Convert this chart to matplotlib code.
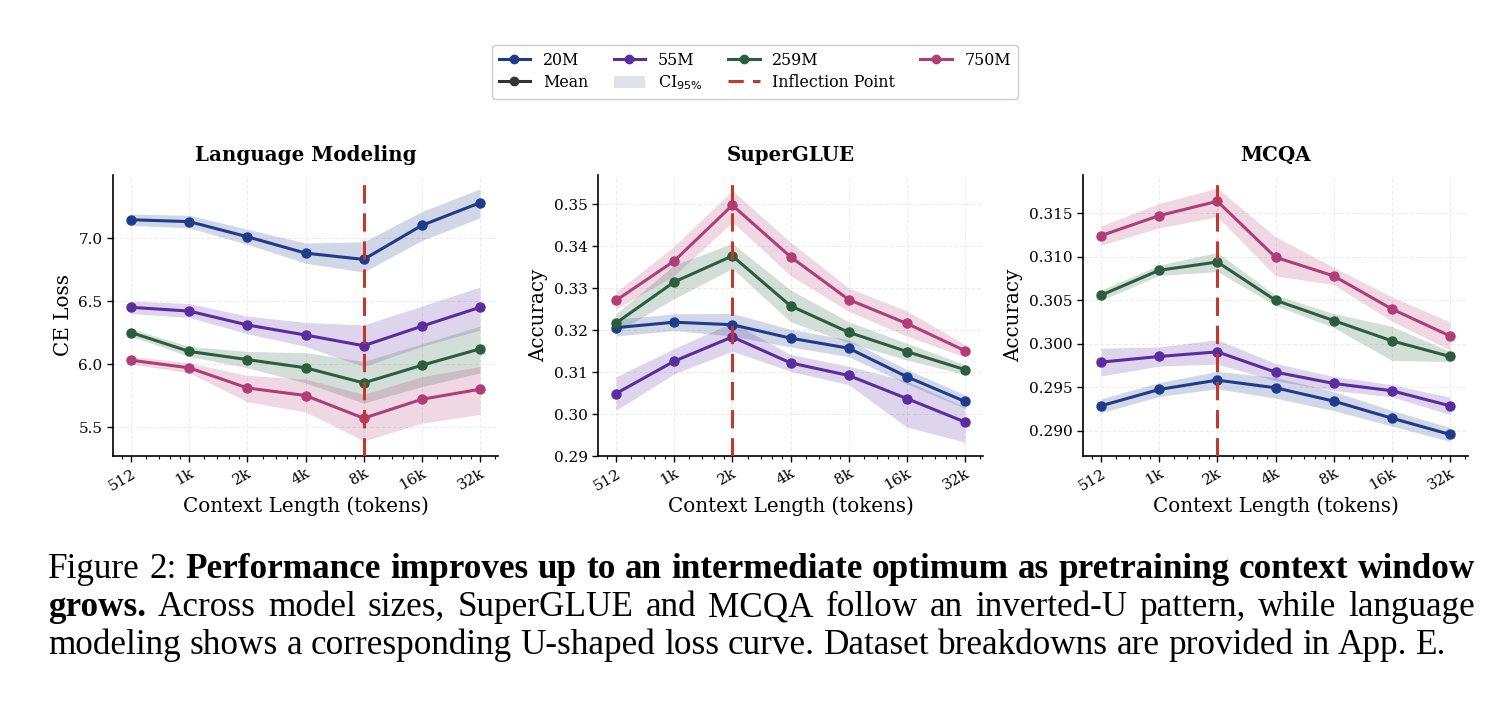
import matplotlib
matplotlib.use("Agg")
import matplotlib.pyplot as plt
import numpy as np
from matplotlib.lines import Line2D
from matplotlib.patches import Patch
from matplotlib.ticker import FixedLocator, LogLocator, NullFormatter

# ---------------- data ----------------
context_lengths = [512, 1024, 2048, 4096, 8192, 16384, 32768]
tick_labels = ["512", "1k", "2k", "4k", "8k", "16k", "32k"]
models = ["20M", "55M", "259M", "750M"]
colors = {"20M": "#1f3b8c", "55M": "#5a2ca0", "259M": "#2b5e3e", "750M": "#b03d78"}

# Language Modeling (CE loss)
lm_mean = {
    "20M":  [7.145, 7.13, 7.01, 6.88, 6.83, 7.10, 7.28],
    "55M":  [6.45, 6.42, 6.31, 6.23, 6.145, 6.30, 6.45],
    "259M": [6.25, 6.10, 6.035, 5.97, 5.85, 5.99, 6.12],
    "750M": [6.03, 5.97, 5.81, 5.75, 5.57, 5.72, 5.80],
}
lm_lo = {
    "20M":  [7.10, 7.08, 6.95, 6.80, 6.73, 6.98, 7.16],
    "55M":  [6.40, 6.37, 6.24, 6.14, 5.98, 6.14, 6.27],
    "259M": [6.22, 6.06, 5.97, 5.85, 5.69, 5.82, 5.93],
    "750M": [6.00, 5.93, 5.70, 5.62, 5.39, 5.53, 5.60],
}
lm_hi = {
    "20M":  [7.19, 7.18, 7.07, 6.96, 6.97, 7.21, 7.39],
    "55M":  [6.50, 6.48, 6.38, 6.33, 6.31, 6.46, 6.61],
    "259M": [6.28, 6.14, 6.10, 6.09, 6.02, 6.16, 6.30],
    "750M": [6.06, 6.01, 5.91, 5.88, 5.76, 5.90, 5.98],
}

# SuperGLUE (accuracy)
sg_mean = {
    "20M":  [0.3206, 0.3219, 0.3213, 0.3181, 0.3157, 0.3089, 0.3030],
    "55M":  [0.3049, 0.3126, 0.3184, 0.3122, 0.3092, 0.3037, 0.2981],
    "259M": [0.3217, 0.3315, 0.3377, 0.3258, 0.3195, 0.3149, 0.3106],
    "750M": [0.3271, 0.3365, 0.3498, 0.3375, 0.3273, 0.3216, 0.3151],
}
sg_lo = {
    "20M":  [0.3186, 0.3199, 0.3186, 0.3160, 0.3137, 0.3072, 0.3014],
    "55M":  [0.3009, 0.3096, 0.3150, 0.3102, 0.3070, 0.2969, 0.2933],
    "259M": [0.3195, 0.3275, 0.3347, 0.3220, 0.3170, 0.3129, 0.3094],
    "750M": [0.3251, 0.3330, 0.3458, 0.3330, 0.3245, 0.3186, 0.3136],
}
sg_hi = {
    "20M":  [0.3226, 0.3239, 0.3240, 0.3202, 0.3177, 0.3106, 0.3046],
    "55M":  [0.3089, 0.3156, 0.3218, 0.3142, 0.3114, 0.3079, 0.3017],
    "259M": [0.3239, 0.3355, 0.3407, 0.3296, 0.3220, 0.3169, 0.3118],
    "750M": [0.3291, 0.3400, 0.3533, 0.3410, 0.3301, 0.3246, 0.3166],
}

# MCQA (accuracy)
mc_mean = {
    "20M":  [0.29287, 0.29475, 0.29582, 0.29494, 0.29341, 0.29145, 0.28958],
    "55M":  [0.29789, 0.29854, 0.29907, 0.29674, 0.29544, 0.29460, 0.29287],
    "259M": [0.30558, 0.30845, 0.30940, 0.30500, 0.30267, 0.30034, 0.29854],
    "750M": [0.31243, 0.31473, 0.31638, 0.30995, 0.30780, 0.30400, 0.30090],
}
mc_lo = {
    "20M":  [0.29207, 0.29395, 0.29482, 0.29374, 0.29231, 0.29055, 0.28878],
    "55M":  [0.29629, 0.29744, 0.29767, 0.29574, 0.29464, 0.29390, 0.29187],
    "259M": [0.30498, 0.30785, 0.30830, 0.30440, 0.30187, 0.29810, 0.29794],
    "750M": [0.31133, 0.31333, 0.31460, 0.30780, 0.30680, 0.30260, 0.29930],
}
mc_hi = {
    "20M":  [0.29367, 0.29555, 0.29682, 0.29614, 0.29451, 0.29235, 0.29038],
    "55M":  [0.29949, 0.29964, 0.30047, 0.29774, 0.29624, 0.29530, 0.29387],
    "259M": [0.30618, 0.30905, 0.31050, 0.30560, 0.30347, 0.30200, 0.29914],
    "750M": [0.31353, 0.31613, 0.31790, 0.31230, 0.30880, 0.30540, 0.30250],
}

panels = [
    ("Language Modeling", "CE Loss", lm_mean, lm_lo, lm_hi, 8192, (5.27, 7.5), [5.5, 6.0, 6.5, 7.0], "{:.1f}"),
    ("SuperGLUE", "Accuracy", sg_mean, sg_lo, sg_hi, 2048, (0.29, 0.357), [0.29, 0.30, 0.31, 0.32, 0.33, 0.34, 0.35], "{:.2f}"),
    ("MCQA", "Accuracy", mc_mean, mc_lo, mc_hi, 2048, (0.2871, 0.3194), [0.290, 0.295, 0.300, 0.305, 0.310, 0.315], "{:.3f}"),
]

# ---------------- figure ----------------
plt.rcParams["font.family"] = ["DejaVu Serif"]
W, H = 1506, 706
fig = plt.figure(figsize=(W / 100, H / 100), dpi=100)
fig.patch.set_facecolor("white")

lefts = [113, 598, 1083]
ax_w, ax_top, ax_bot = 385, 175, 456
red = "#c0392b"

for (title, ylabel, mean, lo, hi, infl, ylim, yticks, fmt), lx in zip(panels, lefts):
    ax = fig.add_axes([lx / W, 1 - ax_bot / H, ax_w / W, (ax_bot - ax_top) / H])
    ax.set_xscale("log", base=2)
    for m in models:
        c = colors[m]
        ax.fill_between(context_lengths, lo[m], hi[m], color=c, alpha=0.2, lw=0)
        ax.plot(context_lengths, mean[m], color=c, lw=2.2, marker="o", ms=6.5, zorder=3)
    ax.axvline(infl, color=red, lw=2.2, ls=(0, (6, 3.2)), zorder=4)
    ax.set_xlim(512 / 2 ** 0.31, 32768 * 2 ** 0.31)
    ax.set_ylim(*ylim)
    ax.xaxis.set_major_locator(FixedLocator(context_lengths))
    ax.set_xticklabels(tick_labels, rotation=30, ha="right", rotation_mode="anchor")
    ax.xaxis.set_minor_locator(LogLocator(base=2, subs=np.arange(1.2, 2.0, 0.2)))
    ax.xaxis.set_minor_formatter(NullFormatter())
    ax.set_yticks(yticks)
    ax.set_yticklabels([fmt.format(v) for v in yticks])
    ax.tick_params(axis="both", which="major", labelsize=11, length=4, width=1.0, direction="out")
    ax.tick_params(axis="x", which="minor", length=2.5, width=0.8)
    ax.grid(True, which="major", ls=(0, (4, 3)), lw=0.6, color="#e6e6e6")
    ax.set_axisbelow(True)
    for s in ["top", "right"]:
        ax.spines[s].set_visible(False)
    for s in ["left", "bottom"]:
        ax.spines[s].set_linewidth(1.2)
    ax.set_title(title, fontsize=14.3, fontweight="bold", pad=10)
    ax.set_ylabel(ylabel, fontsize=14.3, labelpad=4)
    ax.set_xlabel("Context Length (tokens)", fontsize=14.3, labelpad=2)

# legend
handles = []
labels = []
order = [("20M", "line"), ("Mean", "mean"), ("55M", "line"), ("CI$_{95\\%}$", "ci"),
         ("259M", "line"), ("Inflection Point", "infl"), ("750M", "line")]
for lab, kind in order:
    if kind == "line":
        h = Line2D([], [], color=colors[lab], lw=2.2, marker="o", ms=6)
    elif kind == "mean":
        h = Line2D([], [], color="#333333", lw=2.2, marker="o", ms=6)
    elif kind == "ci":
        h = Patch(facecolor="#d9dbe2", edgecolor="none", alpha=0.8)
    else:
        h = Line2D([], [], color=red, lw=2.2, ls=(0, (5, 3)))
    handles.append(h)
    labels.append(lab)
fig.legend(handles, labels, ncol=4, loc="center", bbox_to_anchor=(755 / W, 1 - 72 / H),
           fontsize=11.4, frameon=True, fancybox=True, edgecolor="#cccccc", framealpha=1,
           columnspacing=1.6, handlelength=2.0, handletextpad=0.8, borderpad=0.4, labelspacing=0.3)

# caption
cap_lines = [
    ([("Figure", "normal"), ("2:", "normal"), ("Performance", "bold"), ("improves", "bold"), ("up", "bold"),
      ("to", "bold"), ("an", "bold"), ("intermediate", "bold"), ("optimum", "bold"), ("as", "bold"),
      ("pretraining", "bold"), ("context", "bold"), ("window", "bold")], True),
    ([("grows.", "bold"), ("Across", "normal"), ("model", "normal"), ("sizes,", "normal"), ("SuperGLUE", "normal"),
      ("and", "normal"), ("MCQA", "normal"), ("follow", "normal"), ("an", "normal"), ("inverted-U", "normal"),
      ("pattern,", "normal"), ("while", "normal"), ("language", "normal")], True),
    ([(w, "normal") for w in "modeling shows a corresponding U-shaped loss curve. Dataset breakdowns are provided in App. E.".split()], False),
]
cap_font = ["Liberation Serif", "DejaVu Serif"]
renderer = fig.canvas.get_renderer()

def text_w(txt, size, wt):
    t = fig.text(0, 0, txt, fontsize=size, fontweight=wt, family=cap_font)
    w = t.get_window_extent(renderer).width
    t.remove()
    return w

def natural_width(words, size):
    ws = [text_w(w, size, wt) for w, wt in words]
    sp = text_w("a b", size, "normal") - text_w("ab", size, "normal")
    return sum(ws) + sp * (len(words) - 1), ws, sp

x0, x1 = 48, 1475
base = 20
nat, _, _ = natural_width(cap_lines[0][0], base)
size = base * ((x1 - x0) / nat) * 0.995
baselines = [578, 616, 654]
for (words, justify), by in zip(cap_lines, baselines):
    tot, ws, sp = natural_width(words, size)
    gap = (x1 - x0 - sum(ws)) / (len(words) - 1) if justify else sp
    x = x0
    for (w, wt), wd in zip(words, ws):
        fig.text(x / W, 1 - by / H, w, fontsize=size, fontweight=wt, family=cap_font,
                 va="baseline", ha="left")
        x += wd + gap

fig.savefig("out.png", dpi=100, facecolor="white")
